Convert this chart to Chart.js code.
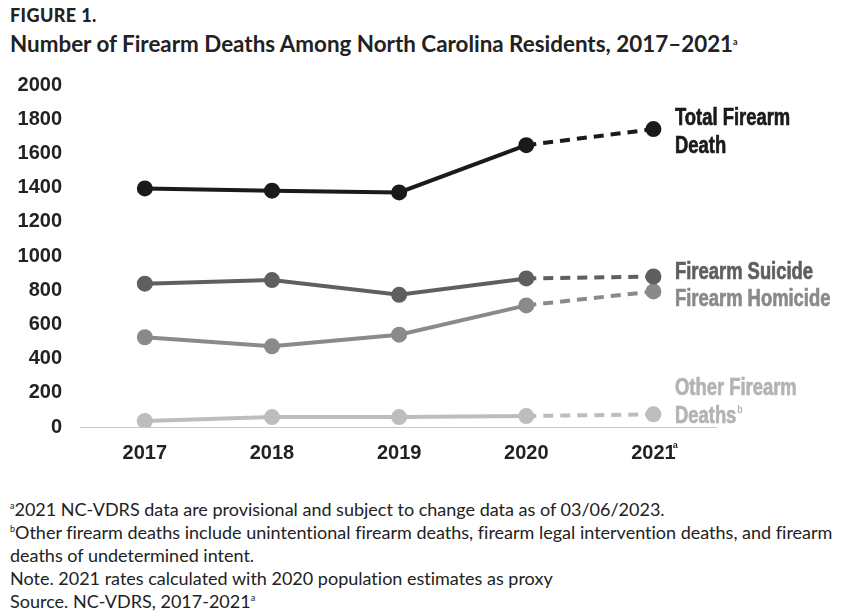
<!DOCTYPE html>
<html>
<head>
<meta charset="utf-8">
<script src="https://cdn.jsdelivr.net/npm/chart.js@4"></script>
<style>
  body { margin: 0; background: #fff; width: 845px; height: 614px; position: relative; overflow: hidden; }
  .fig { position: absolute; left: 10px; top: 4px; font: 900 18px Lato, sans-serif; color: #222; letter-spacing: 0.4px; }
  .title { position: absolute; left: 10px; top: 30px; font: bold 22.4px Lato, sans-serif; color: #222; }
  sup { font-size: 9px; line-height: 0; vertical-align: 7px; }
  #wrap { position: absolute; left: 0; top: 55px; width: 845px; height: 416px; }
  .notes { position: absolute; left: 10px; top: 498px; font: 18px Lato, sans-serif; color: #222; line-height: 23px; font-variant-ligatures: none; }
</style>
</head>
<body>
<div class="fig">FIGURE 1.</div>
<div class="title">Number of Firearm Deaths Among North Carolina Residents, 2017–2021<sup>a</sup></div>
<div id="wrap"><canvas id="myChart"></canvas></div>
<div class="notes">
<sup>a</sup>2021 NC-VDRS data are provisional and subject to change data as of 03/06/2023.<br>
<sup>b</sup>Other firearm deaths include unintentional firearm deaths, firearm legal intervention deaths, and firearm<br>
deaths of undetermined intent.<br>
Note. 2021 rates calculated with 2020 population estimates as proxy<br>
Source. NC-VDRS, 2017-2021<sup>a</sup>
</div>
<script>
const years = [2017, 2018, 2019, 2020, 2021];
const yearLabels = ['2017', '2018', '2019', '2020', '2021'];
const totalDeaths = [1395, 1382, 1372, 1648, 1742];
const suicide = [838, 859, 773, 869, 880];
const homicide = [525, 472, 540, 711, 793];
const otherDeaths = [35, 58, 58, 64, 74];
const yTicks = [0, 200, 400, 600, 800, 1000, 1200, 1400, 1600, 1800, 2000];

const tickFont = '"Liberation Sans", Arial, sans-serif';

function series(values, color, name) {
    return {
        label: name,
        data: values.map((v, i) => ({ x: years[i], y: v })),
        borderColor: color,
        backgroundColor: color,
        pointBackgroundColor: color,
        pointBorderColor: color,
        borderWidth: 4,
        pointRadius: 6,
        segment: {
            // 2020 -> 2021 is provisional, drawn dashed
            borderDash: ctx => ctx.p0DataIndex === 3 ? [10, 7] : undefined
        }
    };
}

// labels at the right end of each line
const endLabels = [
    { lines: ['Total Firearm', 'Death'], color: '#1a1a1a', y: 1742, dy: [-10, 18] },
    { lines: ['Firearm Suicide'], color: '#5f5f5f', y: 880, dy: [-4] },
    { lines: ['Firearm Homicide'], color: '#8a8a8a', y: 793, dy: [8] },
    { lines: ['Other Firearm', 'Deaths'], color: '#b3b3b3', y: 74, dy: [-26, 2], sup: 'b' }
];

const labelPlugin = {
    id: 'endLabels',
    afterDatasetsDraw(chart) {
        const c = chart.ctx;
        const ys = chart.scales.y;
        const xs = chart.scales.x;
        const sx = 0.8;
        c.save();
        c.textBaseline = 'middle';
        c.textAlign = 'left';
        endLabels.forEach(l => {
            c.fillStyle = l.color;
            c.strokeStyle = l.color;
            c.lineWidth = 0.7;
            const base = ys.getPixelForValue(l.y);
            l.lines.forEach((t, i) => {
                const yy = base + l.dy[i];
                c.save();
                c.translate(675, yy);
                c.scale(sx, 1);
                c.font = 'bold 23px ' + tickFont;
                c.fillText(t, 0, 0);
                c.strokeText(t, 0, 0);
                if (l.sup && i === l.lines.length - 1) {
                    const w = c.measureText(t).width;
                    c.font = 'bold 11px ' + tickFont;
                    c.fillText(l.sup, w + 1, -6);
                }
                c.restore();
            });
        });
        // superscript on the 2021 tick label
        c.font = 'bold 20px ' + tickFont;
        const w21 = c.measureText('2021').width;
        c.fillStyle = '#222';
        c.font = 'bold 9px ' + tickFont;
        c.fillText('a', xs.getPixelForValue(2021) + w21 / 2 - 3, ys.bottom + 19);
        c.restore();
    }
};

const ctx = document.getElementById('myChart').getContext('2d');
new Chart(ctx, {
    type: 'line',
    data: {
        datasets: [
            series(totalDeaths, '#1a1a1a', 'Total Firearm Death'),
            series(suicide, '#5f5f5f', 'Firearm Suicide'),
            series(homicide, '#8a8a8a', 'Firearm Homicide'),
            series(otherDeaths, '#bdbdbd', 'Other Firearm Deaths')
        ]
    },
    options: {
        responsive: true,
        maintainAspectRatio: false,
        animation: false,
        layout: { padding: { top: 0, right: 128, left: 0, bottom: 0 } },
        plugins: { legend: { display: false }, tooltip: { enabled: false } },
        scales: {
            x: {
                type: 'linear',
                min: 2016.49,
                max: 2021.5,
                afterBuildTicks: axis => { axis.ticks = years.map(v => ({ value: v })); },
                ticks: {
                    callback: v => yearLabels[years.indexOf(v)],
                    color: '#222',
                    font: { family: tickFont, size: 20, weight: 'bold' },
                    padding: 6
                },
                grid: { display: false },
                border: { display: false }
            },
            y: {
                type: 'linear',
                min: 0,
                max: 2000,
                afterBuildTicks: axis => { axis.ticks = yTicks.map(v => ({ value: v })); },
                afterFit: axis => { axis.width = 80; },
                ticks: {
                    callback: v => String(v),
                    color: '#222',
                    font: { family: tickFont, size: 20, weight: 'bold' },
                    padding: 18
                },
                grid: {
                    drawTicks: false,
                    color: c => c.tick && c.tick.value === 0 ? '#c8c8c8' : 'transparent'
                },
                border: { display: false }
            }
        }
    },
    plugins: [labelPlugin]
});
</script>
</body>
</html>
